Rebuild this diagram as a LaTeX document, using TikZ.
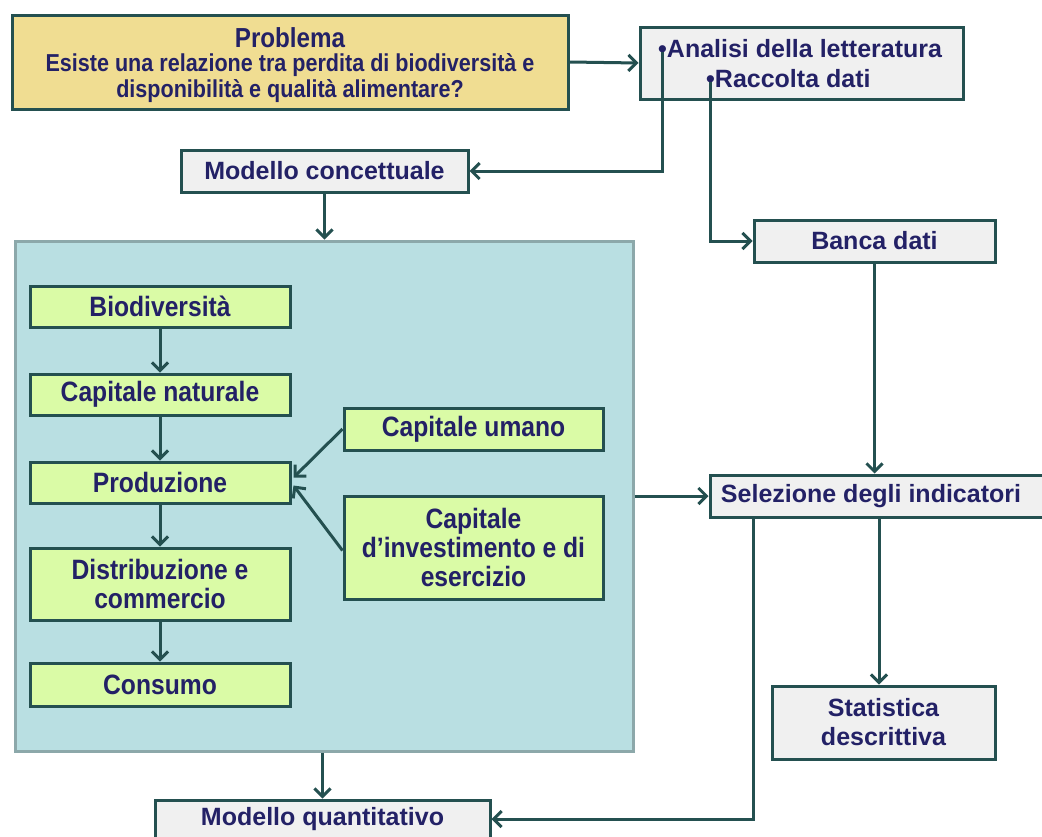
\documentclass[tikz,border=0pt]{standalone}
\usepackage{fontspec}
\setmainfont{Liberation Sans}
\newfontfamily\narrowfont{Liberation Sans}[FakeStretch=0.88]
\usetikzlibrary{arrows.meta,calc}
\definecolor{txtblue}{RGB}{35,33,102}
\definecolor{edge}{RGB}{36,80,80}
\definecolor{panelfill}{RGB}{185,223,226}
\definecolor{paneledge}{RGB}{140,168,170}
\definecolor{yellowfill}{RGB}{240,221,146}
\definecolor{greenfill}{RGB}{218,251,166}
\definecolor{grayfill}{RGB}{240,240,240}
\tikzset{
  base/.style={draw=edge, line width=3pt, rectangle, inner sep=0pt, text=txtblue, align=center},
  graybox/.style={base, fill=grayfill, font=\fontsize{25}{29}\selectfont\bfseries},
  greenbox/.style={base, fill=greenfill, minimum width=260pt, font=\narrowfont\fontsize{28}{29}\selectfont\bfseries},
  yellowbox/.style={base, fill=yellowfill},
  arr/.style={draw=edge, line width=3pt, -{Straight Barb[length=8pt,width=16pt,line width=3pt]}},
}
\begin{document}
\begin{tikzpicture}[x=1pt,y=-1pt]
\useasboundingbox (0,0) rectangle (1042,836);
\fill[white] (0,0) rectangle (1042,836);

% problem statement
\node[yellowbox, minimum width=556pt, minimum height=94pt] (prob) at (290,62) {};
\node[text=txtblue, font=\narrowfont\fontsize{27.5}{28}\selectfont\bfseries] (probtitle) at (290,38) {Problema};
\node[text=txtblue, align=center, font=\narrowfont\fontsize{24.5}{25.5}\selectfont\bfseries] (probtext) at (290,78) {Esiste una relazione tra perdita di biodiversità e\\disponibilità e qualità alimentare?};

% literature and data collection
\node[graybox, minimum width=323pt, minimum height=72pt] (anal) at (801.5,63) {};
\node[text=txtblue, anchor=west, font=\fontsize{25}{29}\selectfont\bfseries, inner sep=0pt] (anal1) at (658,49) {\textbullet Analisi della letteratura};
\node[text=txtblue, anchor=west, font=\fontsize{25}{29}\selectfont\bfseries, inner sep=0pt] (anal2) at (706,79) {\textbullet Raccolta dati};
\coordinate (b1) at (662,52);
\coordinate (b2) at (710,82);

\node[graybox, minimum width=287pt, minimum height=42pt] (conc) at (324.5,171) {Modello concettuale};
\node[graybox, minimum width=241pt, minimum height=42pt] (banca) at (874.5,241) {Banca dati};

% conceptual model panel
\node[draw=paneledge, fill=panelfill, line width=3pt, minimum width=618pt, minimum height=510pt, inner sep=0pt] (panel) at (324,496) {};
\node[greenbox, minimum height=41pt] (bio) at (160,306.5) {\raisebox{-2pt}{Biodiversità}};
\node[greenbox, minimum height=41pt] (capnat) at (160,394.5) {\raisebox{-2pt}{Capitale naturale}};
\node[greenbox, minimum height=41pt] (prod) at (160,482.5) {\raisebox{-2pt}{Produzione}};
\node[greenbox, minimum height=72pt] (distr) at (160,584) {Distribuzione e\\commercio};
\node[greenbox, minimum height=43pt] (cons) at (160,684.5) {\raisebox{-2pt}{Consumo}};
\node[greenbox, minimum width=259pt, minimum height=42pt] (umano) at (473.5,429) {\raisebox{-2pt}{Capitale umano}};
\node[greenbox, minimum width=259pt, minimum height=103pt] (invest) at (473.5,547.5) {Capitale\\d’investimento e di\\esercizio};

% analysis steps
\node[graybox, minimum width=334pt, minimum height=42pt] (sel) at (877,496) {\hspace*{-12pt}Selezione degli indicatori};
\node[graybox, minimum width=223pt, minimum height=73pt] (stat) at (883.5,722.5) {Statistica\\descrittiva};
\node[graybox, minimum width=335pt, minimum height=38pt] (quant) at (322.5,819) {Modello quantitativo};

% connectors
\draw[arr] (prob.east) -- (anal.west);
\draw[arr] (b1) |- (conc.east);
\draw[arr] (b2) |- (banca.west);
\draw[arr] (conc.south) -- (conc.south |- panel.north);
\draw[arr] (bio) -- (capnat);
\draw[arr] (capnat) -- (prod);
\draw[arr] (prod) -- (distr);
\draw[arr] (distr) -- (cons);
\draw[arr] (umano.west) -- ($(prod.east)+(2,-5)$);
\draw[arr] ($(invest.west)+(0,3)$) -- ($(prod.east)+(2,3)$);
\draw[arr] (panel.east) -- (sel.west);
\draw[arr] (banca.south) -- (banca.south |- sel.north);
\draw[arr] ([xshift=-4.5pt]stat.north |- sel.south) -- ([xshift=-4.5pt]stat.north);
\draw[arr] ($(sel.south west)+(45,0)$) |- (quant.east);
\draw[arr] (panel.south -| quant.north) -- (quant.north);
\end{tikzpicture}
\end{document}
